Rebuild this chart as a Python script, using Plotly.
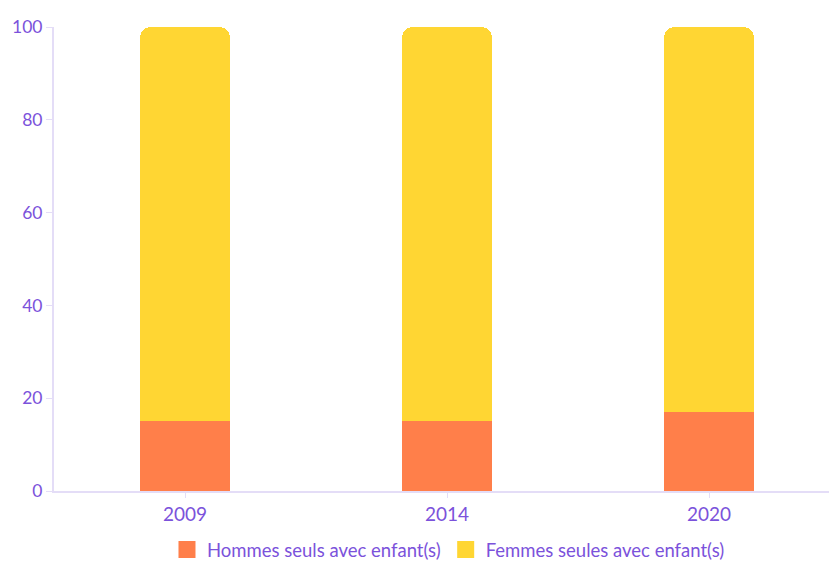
import plotly.graph_objects as go

years = ["2009", "2014", "2020"]
hommes = [15, 15, 17]
femmes = [85, 85, 83]
names = ["Hommes seuls avec enfant(s)", "Femmes seules avec enfant(s)"]
colors = ["#FF7F4A", "#FFD633"]

purple = "#7B52DB"
axis_col = "#E4DDF7"

fig = go.Figure()
for vals, nm, col in zip([hommes, femmes], names, colors):
    fig.add_trace(go.Bar(x=years, y=vals, name=nm, showlegend=False,
                         marker=dict(color=col, line=dict(width=0)), width=0.344))
for nm, col in zip(names, colors):
    fig.add_trace(go.Scatter(x=[None], y=[None], mode="markers", name=nm,
                             marker=dict(symbol="square", size=15, color=col,
                                         line=dict(color=col, width=2))))

fig.update_layout(
    width=829, height=563,
    barmode="stack",
    barcornerradius=11,
    margin=dict(l=54, r=0, t=27, b=72, autoexpand=False),
    paper_bgcolor="white", plot_bgcolor="white",
    font=dict(family="Lato", size=16, color=purple),
    showlegend=True,
    legend=dict(orientation="h", x=0.541, xref="container", xanchor="center",
                y=(563 - 550) / 563, yref="container", yanchor="middle",
                font=dict(size=18.5, color=purple), itemwidth=30, traceorder="normal",
                borderwidth=0, tracegroupgap=0),
    xaxis=dict(type="category", range=[-0.5, 2.458], showline=True, linecolor=axis_col, linewidth=2,
               ticks="outside", ticklen=5, tickcolor=axis_col, showgrid=False, automargin=False,
               tickfont=dict(size=19, color=purple)),
    yaxis=dict(range=[0, 100], tickvals=[0, 20, 40, 60, 80, 100], showline=True, linecolor=axis_col,
               linewidth=2, ticks="outside", ticklen=6, tickcolor=axis_col, showgrid=False,
               zeroline=False, automargin=False, tickfont=dict(size=17.5, color=purple)),
)

fig.write_html("out.html")
